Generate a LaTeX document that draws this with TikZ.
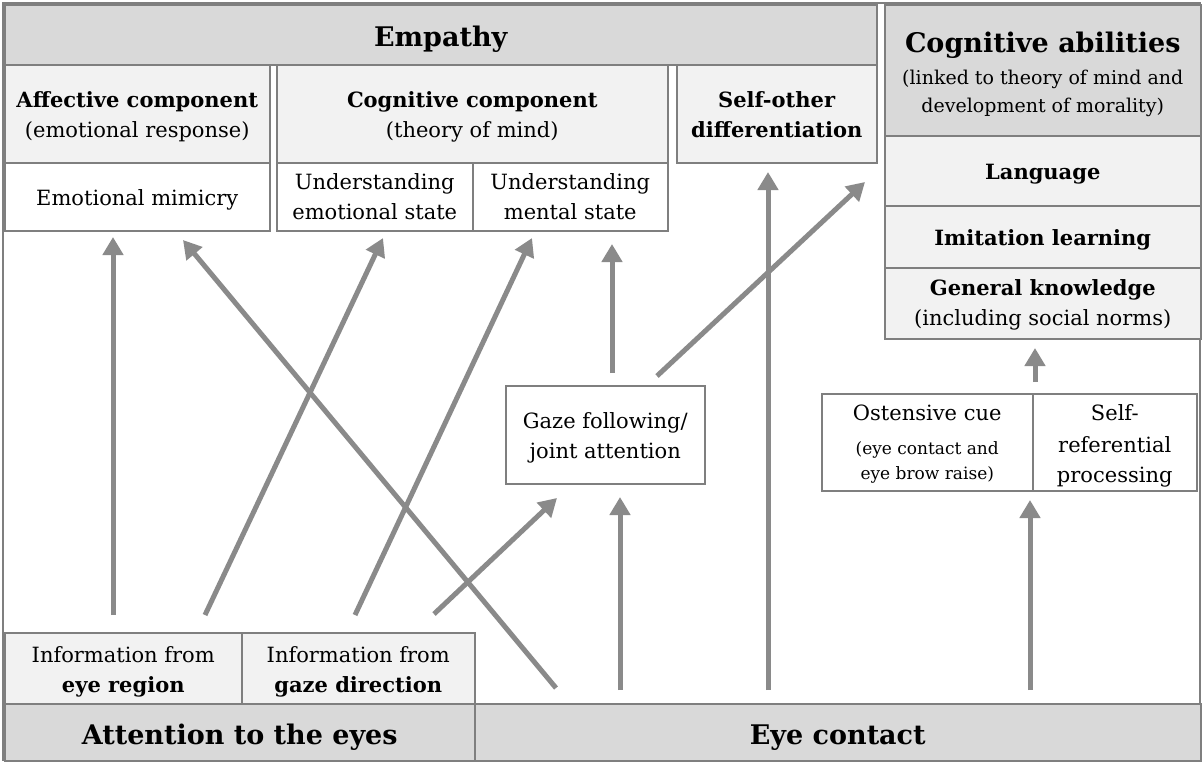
\documentclass[tikz,border=0pt]{standalone}
\usepackage{fontspec}
\setmainfont{DejaVu Serif}
\usetikzlibrary{arrows.meta}
\definecolor{hdr}{HTML}{D9D9D9}
\definecolor{sub}{HTML}{F2F2F2}
\definecolor{ln}{HTML}{7F7F7F}
\definecolor{arr}{HTML}{8A8A8A}
\newcommand{\mlines}[2]{\raisebox{-#1}[\height][\depth]{\begin{tabular}{@{}c@{}}#2\end{tabular}}}
\tikzset{
  tshift/.style={execute at begin node={\rule{0pt}{#1}}},
  box/.style={draw=ln, line width=1.5pt, anchor=north west, inner sep=0pt, align=center,
    font=\fontsize{21}{30}\selectfont, tshift=22pt},
  hdrbox/.style={box, fill=hdr, font=\fontsize{27}{32}\selectfont\bfseries, tshift=30pt},
  subbox/.style={box, fill=sub},
  plainbox/.style={box, fill=white},
  arrow/.style={draw=arr, line width=5pt, -{Triangle[width=20pt,length=18pt]}},
}
\begin{document}
\begin{tikzpicture}[x=1pt,y=-1pt]
\useasboundingbox (0,0) rectangle (1203,763);
\fill[white] (0,0) rectangle (1203,763);
\draw[ln, line width=2.5pt] (3,3) rectangle (1200,760);

% Empathy side
\node[hdrbox, minimum width=872pt, minimum height=60pt, tshift=29pt] (empathy) at (4,4) {Empathy};
\node[subbox, minimum width=265pt, minimum height=98pt] (affective) at (4,64)
  {\mlines{3pt}{\textbf{Affective component}\\(emotional response)}};
\node[plainbox, minimum width=265pt, minimum height=68pt] (mimicry) at (4,162) {Emotional mimicry};
\node[subbox, minimum width=391pt, minimum height=98pt] (cogcomp) at (276,64)
  {\mlines{3pt}{\textbf{Cognitive component}\\(theory of mind)}};
\node[plainbox, minimum width=196pt, minimum height=68pt] (uemo) at (276,162)
  {\mlines{2pt}{Understanding\\emotional state}};
\node[plainbox, minimum width=195pt, minimum height=68pt] (umen) at (472,162)
  {\mlines{2pt}{Understanding\\mental state}};
\node[subbox, minimum width=200pt, minimum height=98pt] (selfother) at (676,64)
  {\mlines{3pt}{\textbf{Self-other}\\\textbf{differentiation}}};

% Cognitive abilities
\node[box, fill=hdr, minimum width=316pt, minimum height=131pt] (cogab) at (884,4)
  {\mlines{6pt}{{\bfseries\fontsize{27}{32}\selectfont Cognitive abilities}\\[2pt]
   {\fontsize{19}{28}\selectfont (linked to theory of mind and}\\[-2pt]
   {\fontsize{19}{28}\selectfont development of morality)}}};
\node[subbox, minimum width=316pt, minimum height=70pt] (language) at (884,135) {\textbf{Language}};
\node[subbox, minimum width=316pt, minimum height=62pt] (imitation) at (884,205) {\textbf{Imitation learning}};
\node[subbox, minimum width=316pt, minimum height=71pt] (genknow) at (884,267)
  {\mlines{1.5pt}{\textbf{General knowledge}\\(including social norms)}};

% middle boxes
\node[plainbox, minimum width=199pt, minimum height=98pt] (gaze) at (505,385)
  {\mlines{3pt}{Gaze following/\\joint attention}};
\node[plainbox, minimum width=211pt, minimum height=97pt] (ostensive) at (821,393)
  {\mlines{2pt}{Ostensive cue\\[4pt]
   {\fontsize{17}{25}\selectfont (eye contact and}\\[-5pt]
   {\fontsize{17}{25}\selectfont eye brow raise)}}};
\node[plainbox, minimum width=164pt, minimum height=97pt] (selfref) at (1032,393)
  {\mlines{3pt}{Self-\\[2pt]referential\\processing}};

% bottom
\node[subbox, minimum width=237pt, minimum height=71pt] (infoeye) at (4,632)
  {\mlines{3pt}{Information from\\\textbf{eye region}}};
\node[subbox, minimum width=233pt, minimum height=71pt] (infogaze) at (241,632)
  {\mlines{3pt}{Information from\\\textbf{gaze direction}}};
\node[hdrbox, minimum width=470pt, minimum height=57pt, tshift=31pt] (attn) at (4,703) {Attention to the eyes};
\node[hdrbox, minimum width=726pt, minimum height=57pt, tshift=31pt] (eyecontact) at (474,703) {Eye contact};

% arrow end points
\coordinate (a1s) at (113,615);  \coordinate (a1e) at (113,237);
\coordinate (a2s) at (556,688);  \coordinate (a2e) at (183,240);
\coordinate (a3s) at (205,615);  \coordinate (a3e) at (383,238);
\coordinate (a4s) at (355,615);  \coordinate (a4e) at (532,238);
\coordinate (a5s) at (434,614);  \coordinate (a5e) at (557,498);
\coordinate (a6s) at (620,690);  \coordinate (a6e) at (620,497);
\coordinate (a7s) at (612,373);  \coordinate (a7e) at (612,244);
\coordinate (a8s) at (657,376);  \coordinate (a8e) at (865,182);
\coordinate (a9s) at (768,690);  \coordinate (a9e) at (768,172);
\coordinate (a10s) at (1030,690); \coordinate (a10e) at (1030,500);
\coordinate (a11s) at (1035,382); \coordinate (a11e) at (1035,348);

\draw[arrow] (a1s) -- (a1e);
\draw[arrow] (a2s) -- (a2e);
\draw[arrow] (a3s) -- (a3e);
\draw[arrow] (a4s) -- (a4e);
\draw[arrow] (a5s) -- (a5e);
\draw[arrow] (a6s) -- (a6e);
\draw[arrow] (a7s) -- (a7e);
\draw[arrow] (a8s) -- (a8e);
\draw[arrow] (a9s) -- (a9e);
\draw[arrow] (a10s) -- (a10e);
\draw[arrow] (a11s) -- (a11e);
\end{tikzpicture}
\end{document}
